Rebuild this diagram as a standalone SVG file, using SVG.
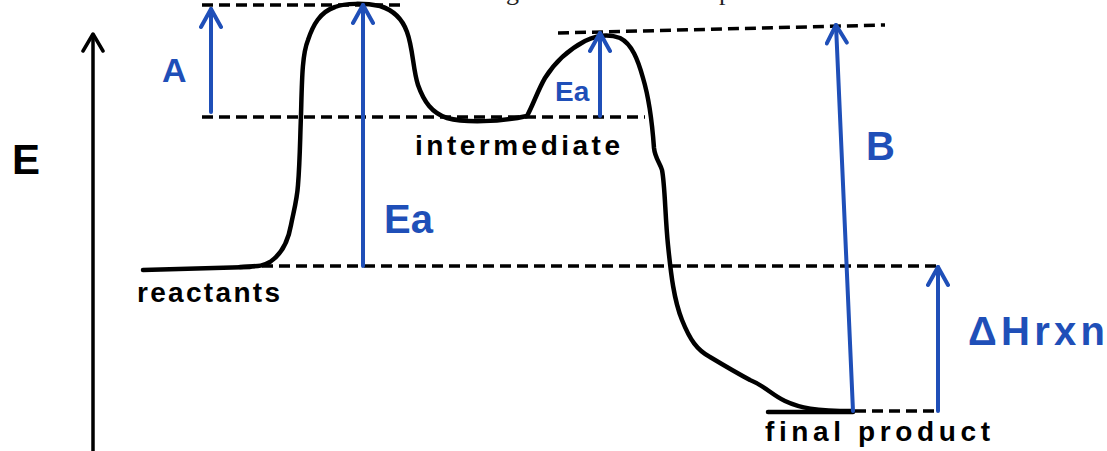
<svg xmlns="http://www.w3.org/2000/svg" width="1107" height="451" viewBox="0 0 1107 451">
<defs>
<style>
.dash{stroke:#000;stroke-width:3.5;stroke-dasharray:11 6;fill:none}
.solid{stroke:#000;stroke-width:4.5;fill:none;stroke-linecap:round;stroke-linejoin:round}
.blue{stroke:#1f4fb8;stroke-width:4;fill:none;stroke-linecap:round}
.lbl{font-family:"Liberation Sans",Arial,sans-serif;fill:#000;font-weight:bold}
.blbl{font-family:"Liberation Sans",Arial,sans-serif;fill:#1f4fb8;font-weight:bold}
</style>
<marker id="hb" viewBox="0 0 24 24" refX="21" refY="12" markerWidth="24" markerHeight="24" markerUnits="userSpaceOnUse" orient="auto">
<path d="M3,2 L21,12 L3,22" fill="none" stroke="#1f4fb8" stroke-width="4" stroke-linecap="round" stroke-linejoin="round"/>
</marker>
<marker id="hk" viewBox="0 0 24 24" refX="21" refY="12" markerWidth="24" markerHeight="24" markerUnits="userSpaceOnUse" orient="auto">
<path d="M4,2 L21,12 L4,22" fill="none" stroke="#000" stroke-width="3.5" stroke-linecap="round" stroke-linejoin="round"/>
</marker>
</defs>
<rect width="1107" height="451" fill="#fff"/>
<g id="caption-fragment" font-family="'Liberation Serif',serif" font-size="26" fill="#222">
<text x="506" y="0">g</text>
<text x="719" y="0">p</text>
</g>
<g id="axis">
<line x1="93" y1="451" x2="93" y2="34" stroke="#000" stroke-width="3.5" marker-end="url(#hk)"/>
<text class="lbl" x="12" y="174" font-size="42">E</text>
</g>
<g id="guides">
<line class="dash" x1="202" y1="5" x2="400" y2="5"/>
<line class="dash" x1="202" y1="117" x2="645" y2="117"/>
<line class="dash" x1="558" y1="33" x2="885" y2="25"/>
<line class="dash" x1="262" y1="266" x2="940" y2="266"/>
<line class="dash" x1="855" y1="411" x2="940" y2="411"/>
</g>
<g id="reactants">
<line class="solid" x1="143" y1="270" x2="250" y2="267"/>
<text class="lbl" x="137" y="302" font-size="28" textLength="143" lengthAdjust="spacing">reactants</text>
</g>
<g id="intermediate">
<text class="lbl" x="415" y="155" font-size="28" textLength="205" lengthAdjust="spacing">intermediate</text>
</g>
<g id="final-product">
<line class="solid" x1="768" y1="412" x2="853" y2="412" stroke-width="5"/>
<text class="lbl" x="765" y="441" font-size="28" textLength="225" lengthAdjust="spacing">final product</text>
</g>
<g id="curve">
<path class="solid" d="M240,267 C255,266 262,267 270,262 C282,254 288,242 291,225 C294,210 297,200 298,185 C300,160 300,140 301,115 C302,80 302,55 308,40 C313,25 320,12 335,7 C345,3 365,3 380,6 C393,10 402,18 407,32 C413,48 413,70 418,85 C424,102 432,113 447,118 C465,123 500,122 527,116 C533,105 538,90 545,78 C555,62 568,50 585,41 C597,35 610,34 620,38 C632,44 638,60 643,78 C649,98 652,120 654,148 C655,158 660,163 662,170 C665,185 665,215 668,245 C671,275 674,300 682,320 C690,340 697,350 710,357 C725,366 735,372 750,380 C765,386 772,395 785,401 C800,408 815,411 853,411"/>
</g>
<g id="connectors">
<line class="blue" x1="211" y1="112" x2="211" y2="9" marker-end="url(#hb)"/>
<line class="blue" x1="363" y1="266" x2="363" y2="5" marker-end="url(#hb)"/>
<line class="blue" x1="600" y1="116" x2="600" y2="33" marker-end="url(#hb)"/>
<line class="blue" x1="853" y1="411" x2="836" y2="25" marker-end="url(#hb)"/>
<line class="blue" x1="938" y1="411" x2="938" y2="267" marker-end="url(#hb)"/>
</g>
<g id="labels">
<text class="blbl" x="162" y="82" font-size="34">A</text>
<text class="blbl" x="384" y="233" font-size="40">Ea</text>
<text class="blbl" x="555" y="101" font-size="28">Ea</text>
<text class="blbl" x="866" y="160" font-size="40">B</text>
<text class="blbl" x="968" y="345" font-size="40" textLength="137" lengthAdjust="spacing">ΔHrxn</text>
</g>
</svg>
